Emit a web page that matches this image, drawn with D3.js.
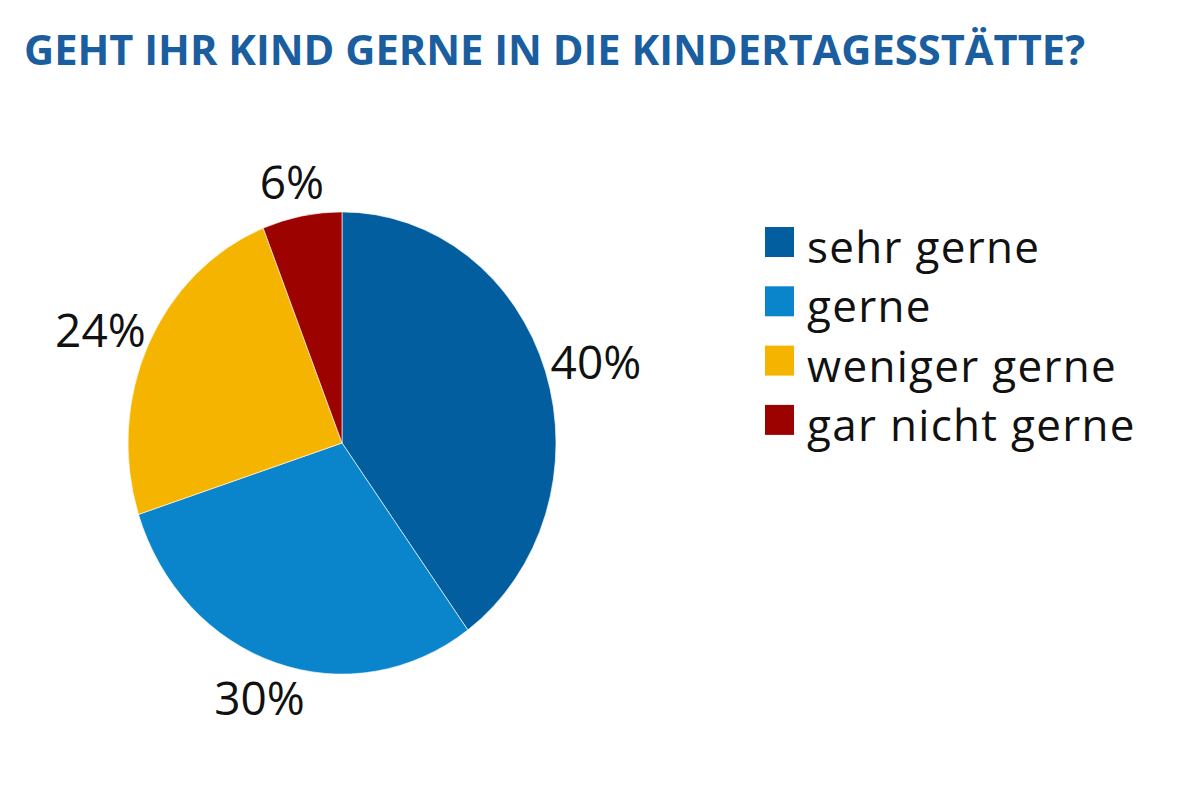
<!DOCTYPE html>
<html>
<head>
<meta charset="utf-8">
<script src="https://cdn.jsdelivr.net/npm/d3@7"></script>
<style>
  body { margin: 0; background: #fff; }
  text { font-family: "Open Sans", "Noto Sans", sans-serif; }
</style>
</head>
<body>
<script>
  var categories = ["sehr gerne", "gerne", "weniger gerne", "gar nicht gerne"];
  var values = [40, 30, 24, 6];
  var colors = ["#035ea0", "#0a85cc", "#f5b400", "#9c0300"];
  var title = "GEHT IHR KIND GERNE IN DIE KINDERTAGESSTÄTTE?";

  var svgWidth = 1200, svgHeight = 800;
  var cx = 342, cy = 443, r = 214, yStretch = 1.08;

  var svg = d3.select('body').append('svg')
    .attr('width', svgWidth)
    .attr('height', svgHeight);

  svg.append('text')
    .attr('x', 24)
    .attr('y', 65)
    .attr('fill', '#1a5e9f')
    .attr('font-size', 41)
    .attr('font-weight', 700)
    .attr('textLength', 1061)
    .attr('lengthAdjust', 'spacingAndGlyphs')
    .text(title);

  var data = categories.map(function(c, i) { return { name: c, value: values[i], color: colors[i] }; });

  var pie = d3.pie().sort(null).value(function(d) { return d.value; });
  var arc = d3.arc().innerRadius(0).outerRadius(r);
  var labelArc = d3.arc().innerRadius(267).outerRadius(267);
  var arcs = pie(data);

  // pie in the picture is slightly taller than wide
  var g = svg.append('g')
    .attr('transform', 'translate(' + cx + ',' + cy + ') scale(1,' + yStretch + ')');

  g.selectAll('path')
    .data(arcs)
    .enter()
    .append('path')
      .attr('d', arc)
      .attr('fill', function(d) { return d.data.color; })
      .attr('stroke', '#fff')
      .attr('stroke-width', 0.6);

  svg.append('g')
    .attr('transform', 'translate(' + cx + ',' + cy + ')')
    .selectAll('text')
    .data(arcs)
    .enter()
    .append('text')
      .attr('x', function(d) { return labelArc.centroid(d)[0]; })
      .attr('y', function(d) { return labelArc.centroid(d)[1]; })
      .attr('text-anchor', 'middle')
      .attr('dominant-baseline', 'central')
      .attr('font-size', 46)
      .attr('fill', '#111')
      .text(function(d) { return d.data.value + '%'; });

  var legend = svg.append('g').attr('transform', 'translate(765,227)');
  var rows = legend.selectAll('g')
    .data(data)
    .enter()
    .append('g')
      .attr('transform', function(d, i) { return 'translate(0,' + (i * 59.3) + ')'; });

  rows.append('rect')
    .attr('width', 29)
    .attr('height', 30)
    .attr('fill', function(d) { return d.color; });

  rows.append('text')
    .attr('x', 42)
    .attr('y', 36)
    .attr('font-size', 44)
    .attr('letter-spacing', 1.3)
    .attr('fill', '#111')
    .text(function(d) { return d.name; });
</script>
</body>
</html>
